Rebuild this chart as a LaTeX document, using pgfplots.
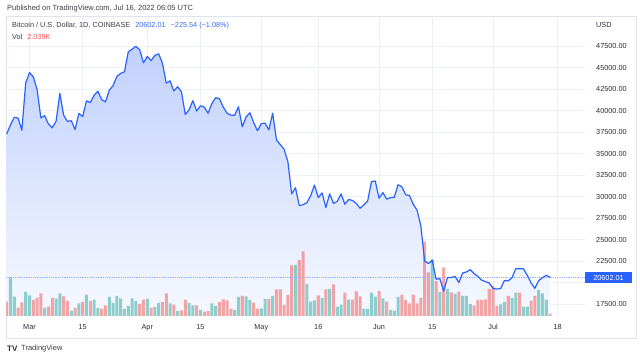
\documentclass[border=0pt]{standalone}
\usepackage{fontspec}
\setmainfont{Liberation Sans}
\usepackage{pgfplots}
\usepackage{pgfplotstable}
\pgfplotsset{compat=1.18}
\definecolor{tvblue}{HTML}{2962FF}
\definecolor{hdrblue}{HTML}{3D6DF5}
\definecolor{upc}{HTML}{26A69A}
\definecolor{dnc}{HTML}{EF5350}
\definecolor{volred}{HTML}{F7525F}
\definecolor{gridc}{HTML}{EDF0F7}
\definecolor{labc}{HTML}{2A2E39}
\definecolor{hdrc}{HTML}{3B3F4A}
\definecolor{framec}{HTML}{E0E3EB}
\definecolor{filltop}{RGB}{193,209,253}
\definecolor{fillbot}{RGB}{247,249,255}
\definecolor{dotc}{RGB}{150,175,252}

% daily close, day 0 = 1 Mar 2022
\pgfplotstableread{
d c
-6 37270
-5 38330
-4 39210
-3 39110
-2 37710
-1 43180
0 44420
1 43920
2 42450
3 39150
4 39400
5 38420
6 37990
7 38740
8 41980
9 39440
10 38730
11 38810
12 37790
13 39670
14 39280
15 41120
16 40920
17 41760
18 42240
19 41260
20 41000
21 42360
22 42890
23 43960
24 44320
25 44500
26 46820
27 47130
28 47460
29 47070
30 45540
31 46280
32 45810
33 46410
34 46590
35 45500
36 43180
37 43450
38 42270
39 42760
40 42170
41 39530
42 40080
43 41150
44 39940
45 40550
46 40390
47 39680
48 40800
49 41490
50 41370
51 40400
52 39680
53 39460
54 39450
55 40430
56 38110
57 39240
58 39740
59 38600
60 37640
61 38470
62 38530
63 37750
64 39690
65 36570
66 36040
67 35500
68 34060
69 30300
70 31020
71 28940
72 29050
73 29280
74 30080
75 31330
76 29870
77 30420
78 28720
79 30310
80 29200
81 29430
82 30300
83 29100
84 29650
85 29540
86 29200
87 28630
88 29030
89 29470
90 31730
91 31800
92 29800
93 30450
94 29700
95 29860
96 29910
97 31370
98 31130
99 30200
100 30110
101 29090
102 28420
103 26570
104 22490
105 22210
106 22580
107 20380
108 20450
109 19000
110 20560
111 20580
112 20710
113 19990
114 21100
115 21230
116 21490
117 21030
118 20730
119 20270
120 20100
121 19940
122 19300
123 19240
124 19300
125 20230
126 20190
127 20550
128 21620
129 21590
130 21590
131 20850
132 19960
133 19320
134 20210
135 20570
136 20830
137 20602.01
}\price

% volume (thousand BTC), up days
\pgfplotstableread{
d v
-5 38.3
-4 19.3
-1 24
0 20.7
4 8
7 17.3
8 22.7
11 5.3
13 12.7
15 21.3
17 16.3
18 8
21 19
22 13
23 20
24 17.7
25 7
26 10
27 17.7
28 15
31 17
33 9
34 13
37 12.7
39 5
42 13
43 10.7
45 6
48 12.7
49 10
54 6
55 19
57 19.7
58 16
61 7.7
62 17
64 20
70 51
73 32
74 14.3
75 15.7
77 18
79 27
81 9.3
82 11.3
84 16.3
88 7.3
89 7
90 23.3
91 19.3
93 17.7
95 6
96 5.3
97 19
106 56.7
108 24
110 27
112 22
114 20
115 20
116 12
124 11.7
125 14
127 18
128 23.3
130 9.3
131 9.3
134 26
135 22.7
136 16.3
}\upvol

% volume (thousand BTC), down days
\pgfplotstableread{
d v
-6 14.3
-3 8.3
-2 13.7
1 16
2 18
3 22.7
5 9.3
6 18
9 19.7
10 15
12 8
14 14
16 15
19 7.3
20 10.7
29 12
30 16.3
32 8.3
35 14
36 22.7
38 11.3
40 5.7
41 16.3
44 10.7
46 4.3
47 5
50 14
51 16.7
52 15.7
53 7
56 20
59 13.3
60 7.3
63 17
65 26.7
66 26.7
67 11
68 21
69 50.7
71 56
72 64.7
76 20.7
78 26.7
80 31.7
83 23.3
85 16.3
86 24.7
87 19.7
92 25
94 14.3
98 21.3
99 16
100 12.7
101 21.3
102 12.7
103 18
104 74.7
105 43.7
107 35
109 48.7
111 23.7
113 24.3
117 10.7
118 16
119 16
120 16.7
121 27
122 30
123 10
126 20
129 23.3
132 15.3
133 20
137 2.3
}\downvol

\pgfplotsset{base/.style={at={(6pt,40pt)}, anchor=south west, scale only axis,
  width=579pt, height=300pt, xmin=-6.18, xmax=146.2}}

\begin{document}
\begin{tikzpicture}[x=1pt,y=1pt]
\fill[white] (0,0) rectangle (640,356);
\useasboundingbox (0,0) rectangle (640,356);
\draw[framec, line width=0.8pt] (6,340) rectangle (636,18);

% price axis with grid and area fill
\begin{axis}[base,
  ymin=16105, ymax=50988,
  xtick={0,14,31,45,61,76,92,106,122,139},
  xticklabels={Mar,15,Apr,15,May,16,Jun,15,Jul,18},
  ytick={17500,22500,25000,27500,30000,32500,35000,37500,40000,42500,45000,47500},
  extra y ticks={20000}, extra y tick labels={},
  extra y tick style={grid=major},
  scaled y ticks=false,
  yticklabel pos=right,
  grid=major, major grid style={color=gridc, line width=0.7pt},
  axis line style={draw=none}, major tick length=0pt,
  tick label style={font=\fontsize{7.3}{8}\selectfont, text=labc, inner sep=0pt},
  xticklabel style={anchor=base, yshift=-14pt},
  yticklabel style={anchor=west, xshift=11pt,
    /pgf/number format/.cd, fixed, fixed zerofill, precision=2, 1000 sep={}, assume math mode=true}]
\addplot[draw=none, top color=filltop, bottom color=fillbot]
  table[x=d, y=c] {\price} -- (axis cs:137,16105) -- (axis cs:-6,16105) -- cycle;
\end{axis}

% volume overlay
\begin{axis}[base, ymin=0, ymax=300, hide axis]
\addplot[ybar, bar width=0.8, bar shift=0pt, draw=none, fill=upc, fill opacity=0.5]
  table[x=d, y=v] {\upvol};
\addplot[ybar, bar width=0.8, bar shift=0pt, draw=none, fill=dnc, fill opacity=0.5]
  table[x=d, y=v] {\downvol};
\end{axis}

% price line
\begin{axis}[base, ymin=16105, ymax=50988, hide axis]
\addplot[dotc, densely dotted, line width=0.8pt] coordinates {(-6.18,20602.01) (146.2,20602.01)};
\addplot[tvblue, line width=1.2pt, line join=round] table[x=d, y=c] {\price};
\end{axis}

% last price box
\fill[tvblue] (585,72.5) rectangle (632,83.5);
\node[white, font=\fontsize{7.3}{8}\selectfont, inner sep=0pt] at (608.5,78) {20602.01};

% texts
\node[anchor=west, inner sep=0pt, font=\fontsize{7.3}{8}\selectfont, text=labc] at (596,331) {USD};
\node[anchor=west, inner sep=0pt, font=\fontsize{7.5}{8}\selectfont, text=hdrc] at (7,347)
  {Published on TradingView.com, Jul 16, 2022 06:05 UTC};
\node[anchor=west, inner sep=0pt, font=\fontsize{7.3}{8}\selectfont] at (12,330.5)
  {\textcolor{hdrc}{Bitcoin / U.S. Dollar, 1D, COINBASE}\hspace{5pt}\textcolor{hdrblue}{20602.01\hspace{5pt}−225.54 (−1.08\%)}};
\node[anchor=west, inner sep=0pt, font=\fontsize{7.3}{8}\selectfont] at (12,319)
  {\textcolor{hdrc}{Vol}\hspace{5pt}\textcolor{volred}{2.039K}};
\node[anchor=west, inner sep=0pt, font=\bfseries\fontsize{8}{9}\selectfont, text=labc] at (7,7.5) {TV};
\node[anchor=west, inner sep=0pt, font=\fontsize{7.5}{9}\selectfont, text=hdrc] at (21,7.5) {TradingView};
\end{tikzpicture}
\end{document}
